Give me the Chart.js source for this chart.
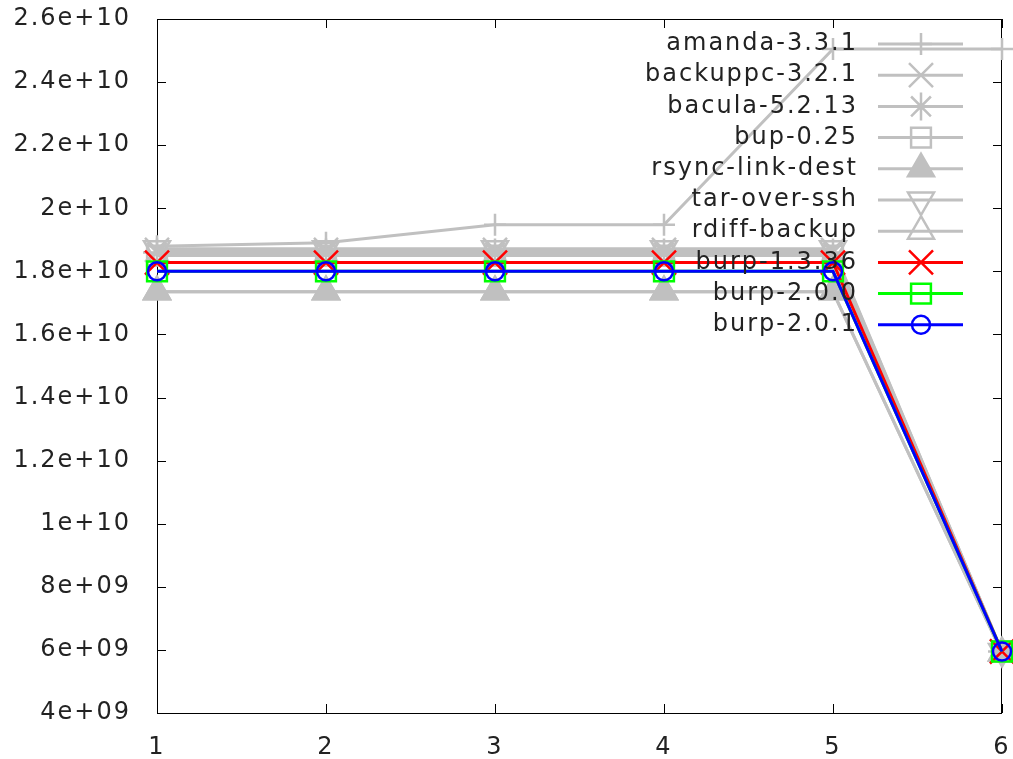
<!DOCTYPE html>
<html>
<head>
<meta charset="utf-8">
<title>Backup size per run</title>
<script src="https://cdn.jsdelivr.net/npm/chart.js@4.4.0/dist/chart.umd.min.js"></script>
<style>
  html, body { margin: 0; padding: 0; background: #fff; }
  #wrap { width: 1013px; height: 759px; }
</style>
</head>
<body>
<div id="wrap"><canvas id="chart" width="1013" height="759"></canvas></div>
<script>
// Run numbers on the x axis
const runs = [1, 2, 3, 4, 5, 6];

// Bytes per run for each backup tool
const amanda    = [1.88e10, 1.891e10, 1.948e10, 1.948e10, 2.505e10, 2.505e10];
const backuppc  = [1.868e10, 1.868e10, 1.868e10, 1.868e10, 1.868e10, 5.95e9];
const bacula    = [1.860e10, 1.860e10, 1.860e10, 1.860e10, 1.860e10, 5.95e9];
const bup       = [1.850e10, 1.850e10, 1.850e10, 1.850e10, 1.850e10, 5.95e9];
const rsyncLink = [1.735e10, 1.735e10, 1.735e10, 1.735e10, 1.735e10, 5.9e9];
const tarSsh    = [1.872e10, 1.872e10, 1.872e10, 1.872e10, 1.872e10, 5.95e9];
const rdiff     = [1.735e10, 1.735e10, 1.735e10, 1.735e10, 1.735e10, 5.9e9];
const burp1336  = [1.828e10, 1.828e10, 1.828e10, 1.828e10, 1.828e10, 5.95e9];
const burp200   = [1.800e10, 1.800e10, 1.800e10, 1.800e10, 1.800e10, 5.95e9];
const burp201   = [1.800e10, 1.800e10, 1.800e10, 1.800e10, 1.800e10, 5.95e9];

// y axis ticks, printed the way gnuplot's %g does
const yTickValues = [4e9, 6e9, 8e9, 1e10, 1.2e10, 1.4e10, 1.6e10, 1.8e10, 2e10, 2.2e10, 2.4e10, 2.6e10];
const yTickLabels = ['4e+09', '6e+09', '8e+09', '1e+10', '1.2e+10', '1.4e+10', '1.6e+10',
                     '1.8e+10', '2e+10', '2.2e+10', '2.4e+10', '2.6e+10'];

const GREY = 'rgb(192,192,192)';
const FONT = '"DejaVu Sans", sans-serif';
const SPACING = '2px';

function series(label, values, color, style, radius, fill, rotation) {
  return {
    label: label,
    data: values.map((v, i) => ({ x: runs[i], y: v })),
    borderColor: color,
    borderWidth: 3,
    pointStyle: style,
    pointRadius: radius,
    pointHoverRadius: radius,
    pointRotation: rotation || 0,
    pointBorderColor: color,
    pointBorderWidth: 2.5,
    pointBackgroundColor: fill ? color : 'rgba(0,0,0,0)',
    backgroundColor: fill ? color : 'rgba(0,0,0,0)',
    tension: 0,
    fill: false,
    clip: false
  };
}

const datasets = [
  series('amanda-3.3.1', amanda, GREY, 'cross', 11),
  series('backuppc-3.2.1', backuppc, GREY, 'crossRot', 17),
  series('bacula-5.2.13', bacula, GREY, 'star', 14),
  series('bup-0.25', bup, GREY, 'rect', 14),
  series('rsync-link-dest', rsyncLink, GREY, 'triangle', 15, true),
  series('tar-over-ssh', tarSsh, GREY, 'triangle', 15, false, 180),
  series('rdiff-backup', rdiff, GREY, 'triangle', 15),
  series('burp-1.3.36', burp1336, '#ff0000', 'crossRot', 17),
  series('burp-2.0.0', burp200, '#00ff00', 'rect', 14),
  series('burp-2.0.1', burp201, '#0000ff', 'circle', 9)
];
// later series are painted on top
datasets.forEach((d, i) => { d.order = datasets.length - i; });

// gnuplot's text is set a bit wider than the browser default
const spacingPlugin = {
  id: 'spacing',
  beforeLayout(chart) { chart.ctx.letterSpacing = SPACING; },
  beforeDraw(chart) { chart.ctx.letterSpacing = SPACING; }
};

// Frame with inward ticks on all four sides
const framePlugin = {
  id: 'frame',
  beforeDatasetsDraw(chart) {
    const { ctx, chartArea: a, scales } = chart;
    const tick = 9;
    ctx.save();
    ctx.strokeStyle = '#000';
    ctx.lineWidth = 1;
    ctx.strokeRect(a.left + 0.5, a.top + 0.5, a.right - a.left - 1, a.bottom - a.top);
    ctx.beginPath();
    scales.x.ticks.forEach(t => {
      const x = Math.round(scales.x.getPixelForValue(t.value)) + 0.5;
      ctx.moveTo(x, a.bottom); ctx.lineTo(x, a.bottom - tick);
      ctx.moveTo(x, a.top); ctx.lineTo(x, a.top + tick);
    });
    scales.y.ticks.forEach(t => {
      const y = Math.round(scales.y.getPixelForValue(t.value)) + 0.5;
      ctx.moveTo(a.left, y); ctx.lineTo(a.left + tick, y);
      ctx.moveTo(a.right, y); ctx.lineTo(a.right - tick, y);
    });
    ctx.stroke();
    ctx.restore();
  }
};

// Key in the top right corner: right-aligned title, then a line sample with its marker
const keyPlugin = {
  id: 'key',
  afterDraw(chart) {
    const ctx = chart.ctx;
    ctx.save();
    ctx.font = '24px ' + FONT;
    ctx.letterSpacing = SPACING;
    ctx.textAlign = 'right';
    ctx.textBaseline = 'middle';
    chart.data.datasets.forEach((ds, i) => {
      const y = 44 + i * 31.2;
      ctx.fillStyle = '#222';
      ctx.fillText(ds.label, 858, y);
      ctx.strokeStyle = ds.borderColor;
      ctx.lineWidth = ds.borderWidth;
      ctx.beginPath();
      ctx.moveTo(878, y);
      ctx.lineTo(963, y);
      ctx.stroke();
      ctx.fillStyle = ds.pointBackgroundColor;
      ctx.lineWidth = ds.pointBorderWidth;
      Chart.helpers.drawPoint(ctx, {
        pointStyle: ds.pointStyle,
        radius: ds.pointRadius,
        rotation: ds.pointRotation,
        borderWidth: ds.pointBorderWidth
      }, 921, y);
    });
    ctx.restore();
  }
};

new Chart(document.getElementById('chart'), {
  type: 'line',
  data: { datasets: datasets },
  options: {
    responsive: false,
    animation: false,
    layout: { autoPadding: false, padding: { top: 19, right: 11, left: 0, bottom: 0 } },
    plugins: {
      legend: { display: false },
      tooltip: { enabled: false }
    },
    scales: {
      x: {
        type: 'linear',
        min: 1,
        max: 6,
        afterBuildTicks: s => { s.ticks = runs.map(v => ({ value: v })); },
        afterFit: s => { s.height = 46; s.paddingLeft = 0; s.paddingRight = 0; },
        grid: { display: false, drawTicks: false },
        border: { display: false },
        ticks: {
          padding: 20,
          color: '#222',
          font: { family: FONT, size: 24 },
          maxRotation: 0,
          callback: v => String(v)
        }
      },
      y: {
        type: 'linear',
        min: 4e9,
        max: 2.6e10,
        afterBuildTicks: s => { s.ticks = yTickValues.map(v => ({ value: v })); },
        afterFit: s => { s.width = 157; s.paddingTop = 0; s.paddingBottom = 0; },
        grid: { display: false, drawTicks: false },
        border: { display: false },
        ticks: {
          padding: 26,
          color: '#222',
          font: { family: FONT, size: 24 },
          callback: (v, i) => yTickLabels[i]
        }
      }
    }
  },
  plugins: [spacingPlugin, framePlugin, keyPlugin]
});
</script>
</body>
</html>
